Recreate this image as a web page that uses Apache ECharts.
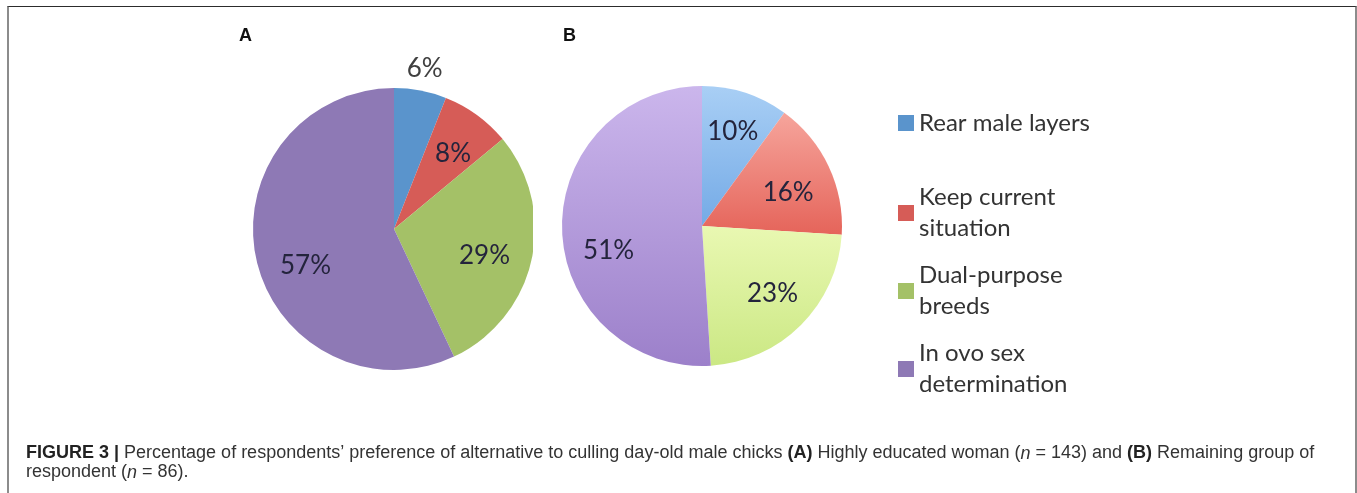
<!DOCTYPE html>
<html>
<head>
<meta charset="utf-8">
<script src="https://cdn.jsdelivr.net/npm/echarts@6/dist/echarts.min.js"></script>
<style>
    html, body { margin: 0; padding: 0; background: #fff; }
    #chart { width: 1357px; height: 493px; position: relative; }
    /* 外框 */
    #frame {
        position: absolute; left: 7px; top: 6px; width: 1346px; height: 520px;
        border-top: 1px solid #2c2c2c; border-left: 2px solid #8c8c8c; border-right: 2px solid #8c8c8c;
        pointer-events: none;
    }
</style>
</head>
<body>
<div id="chart"></div>
<div id="frame"></div>
<script>
// 类别与数据
const categories = ['Rear male layers', 'Keep current situation', 'Dual-purpose breeds', 'In ovo sex determination'];
const legendLabels = ['Rear male layers', 'Keep current\nsituation', 'Dual-purpose\nbreeds', 'In ovo sex\ndetermination'];
const valuesA = [6, 8, 29, 57];   // (A) Highly educated woman, n = 143
const valuesB = [10, 16, 23, 51]; // (B) Remaining group, n = 86

// 颜色
const colorsA = ['#5a94cc', '#d65c57', '#a4c167', '#8e79b5'];
const gradB = [
    ['#a9cff5', '#74aae6'],
    ['#f6a59c', '#e5645a'],
    ['#e9f8b2', '#cbe884'],
    ['#cbb6ec', '#9c80ca']
];

// 标签位置微调：角度偏移(度) 与 半径比例
const labelNudgeA = [0, 2, 4, -10];
const labelDistA = [1.16, 0.68, 0.67, 0.68];
const labelNudgeB = [0, 4, -1, -13];
const labelDistB = [0.71, 0.66, 0.70, 0.69];

const pieA = { cx: 394, cy: 229, r: 141 };
const pieB = { cx: 702, cy: 226, r: 140 };

function labelPos(values, pie, nudge, dist, i) {
    const total = values.reduce((s, v) => s + v, 0);
    let before = 0;
    for (let k = 0; k < i; k++) before += values[k];
    const deg = (before + values[i] / 2) / total * 360 + nudge[i];
    const rad = deg * Math.PI / 180;
    const d = dist[i] * pie.r;
    return {
        x: pie.cx + d * Math.sin(rad),
        y: pie.cy - d * Math.cos(rad),
        align: 'center',
        verticalAlign: 'middle'
    };
}

const labelFont = { fontFamily: 'Lato', fontSize: 26, color: '#24243c' };
const capFont = { fontFamily: 'Liberation Sans', fontSize: 18, lineHeight: 19 };

const chart = echarts.init(document.getElementById('chart'));

const option = {
    animation: false,
    title: [
        { text: 'A', left: 234, top: 22, textStyle: { fontFamily: 'Liberation Sans', fontSize: 18, fontWeight: 'bold', color: '#111' } },
        { text: 'B', left: 558, top: 22, textStyle: { fontFamily: 'Liberation Sans', fontSize: 18, fontWeight: 'bold', color: '#111' } },
        {
            left: 21, top: 439,
            text: '{b|FIGURE 3 |}{t| Percentage of respondents\u2019 preference of alternative to culling day-old male chicks }{b|(A)}{t| Highly educated woman (}{i|n}{t| = 143) and }{b|(B)}{t| Remaining group of}\n{t|respondent (}{i|n}{t| = 86).}',
            textStyle: {
                fontWeight: 'normal',
                rich: {
                    b: { ...capFont, fontWeight: 'bold', color: '#222' },
                    t: { ...capFont, fontWeight: 'normal', color: '#333' },
                    i: { ...capFont, fontWeight: 'normal', fontStyle: 'italic', color: '#333' }
                }
            }
        }
    ],
    legend: {
        orient: 'vertical',
        left: 898,
        top: 64.5,
        padding: 0,
        itemGap: -15,
        itemWidth: 16,
        itemHeight: 16,
        icon: 'rect',
        selectedMode: false,
        // 单行条目上下补齐，多行条目顶部补齐，使色块对齐首行
        data: categories.map((name, i) => ({
            name: name,
            textStyle: { padding: legendLabels[i].includes('\n') ? [31, 0, 0, 0] : [43, 0, 43, 0] }
        })),
        formatter: name => legendLabels[categories.indexOf(name)],
        textStyle: { fontFamily: 'Lato', fontSize: 24, color: '#333', lineHeight: 31 }
    },
    series: [
        {
            type: 'pie',
            center: [pieA.cx, pieA.cy],
            radius: pieA.r,
            startAngle: 90,
            clockwise: true,
            data: categories.map((name, i) => ({
                name: name,
                value: valuesA[i],
                itemStyle: { color: colorsA[i] },
                label: i === 0 ? { color: '#404040' } : {}
            })),
            label: { show: true, position: 'inside', formatter: '{c}%', ...labelFont },
            labelLine: { show: false },
            labelLayout: p => labelPos(valuesA, pieA, labelNudgeA, labelDistA, p.dataIndex),
            emphasis: { disabled: true }
        },
        {
            type: 'pie',
            center: [pieB.cx, pieB.cy],
            radius: pieB.r,
            startAngle: 90,
            clockwise: true,
            data: categories.map((name, i) => ({
                name: name,
                value: valuesB[i],
                itemStyle: {
                    color: new echarts.graphic.LinearGradient(0, 0, 0, 1, [
                        { offset: 0, color: gradB[i][0] },
                        { offset: 1, color: gradB[i][1] }
                    ])
                }
            })),
            label: { show: true, position: 'inside', formatter: '{c}%', ...labelFont },
            labelLine: { show: false },
            labelLayout: p => labelPos(valuesB, pieB, labelNudgeB, labelDistB, p.dataIndex),
            emphasis: { disabled: true }
        }
    ],
    // 原图中饼图A右侧被裁切
    graphic: [
        { type: 'rect', z: 100, shape: { x: 533, y: 70, width: 26, height: 320 }, style: { fill: '#fff' } }
    ]
};

option && chart.setOption(option);
</script>
</body>
</html>
